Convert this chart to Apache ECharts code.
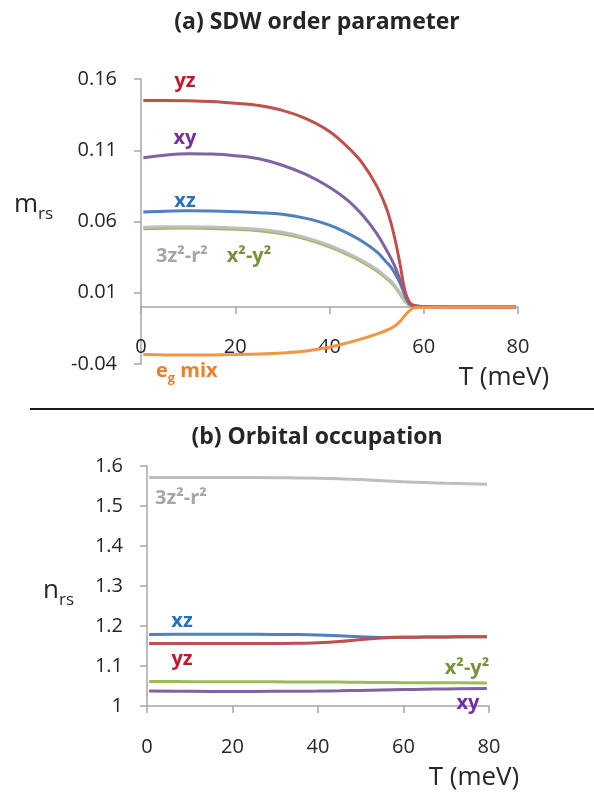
<!DOCTYPE html>
<html><head><meta charset="utf-8">
<script src="https://cdn.jsdelivr.net/npm/echarts@6/dist/echarts.min.js"></script>
<style>html,body{margin:0;padding:0;background:#fff}#c{width:594px;height:794px}</style>
</head><body><div id="c"></div>
<script>
// ---------- data: (a) SDW order parameter ----------
const tempTop  = [0.5, 5, 10, 15, 20, 25, 30, 35, 40, 44, 47, 50, 52, 53, 54, 55, 56, 57, 58, 60, 65, 70, 79.5];
const mYZ      = [0.1450,0.1450,0.1448,0.1442,0.1430,0.1414,0.1380,0.1322,0.1232,0.1118,0.1008,0.0850,0.0700,0.0595,0.0460,0.0295,0.0115,0.0030,0.0008,0.0003,0.0001,0.0001,0];
const mXY      = [0.1048,0.1065,0.1075,0.1073,0.1062,0.1040,0.0995,0.0930,0.0840,0.0745,0.0645,0.0517,0.0405,0.0345,0.0275,0.0189,0.0100,0.0030,0.0010,0.0004,0.0002,0.0001,0];
const mXZ      = [0.0666,0.0672,0.0675,0.0674,0.0669,0.0662,0.0651,0.0622,0.0575,0.0515,0.0460,0.0388,0.0318,0.0282,0.0230,0.0166,0.0080,0.0020,0.0006,0.0003,0.0001,0.0001,0];
const m3Z2R2   = [0.0559,0.0563,0.0564,0.0561,0.0555,0.0545,0.0524,0.0487,0.0432,0.0375,0.0325,0.0265,0.0211,0.0183,0.0145,0.0096,0.0046,0.0012,0.0004,0.0002,0.0001,0,0];
const mX2Y2    = [0.0549,0.0553,0.0554,0.0551,0.0545,0.0535,0.0514,0.0477,0.0422,0.0365,0.0315,0.0255,0.0202,0.0175,0.0137,0.0089,0.0040,0.0010,0.0003,0.0001,0.0001,0,0];
const mEgMix   = [-0.0333,-0.0336,-0.0337,-0.0336,-0.0334,-0.0330,-0.0322,-0.0308,-0.0282,-0.0250,-0.0222,-0.0190,-0.0165,-0.0150,-0.0130,-0.0100,-0.0060,-0.0025,-0.0005,-0.0001,0,0,0];

// ---------- data: (b) Orbital occupation ----------
const tempBottom = [0.5, 10, 20, 30, 35, 40, 45, 50, 55, 60, 65, 70, 79.5];
const n3Z2R2 = [1.5710,1.5712,1.5712,1.5708,1.5703,1.5695,1.5680,1.5660,1.5630,1.5605,1.5585,1.5568,1.5545];
const nXZ    = [1.1790,1.1792,1.1792,1.1790,1.1787,1.1777,1.1755,1.1730,1.1715,1.1718,1.1722,1.1726,1.1733];
const nYZ    = [1.1560,1.1560,1.1560,1.1562,1.1566,1.1580,1.1610,1.1660,1.1700,1.1718,1.1722,1.1726,1.1733];
const nX2Y2  = [1.0610,1.0609,1.0607,1.0604,1.0602,1.0600,1.0597,1.0593,1.0588,1.0584,1.0581,1.0579,1.0577];
const nXY    = [1.0372,1.0366,1.0364,1.0366,1.0369,1.0373,1.0380,1.0390,1.0400,1.0410,1.0420,1.0428,1.0440];

// ---------- tick labels ----------
const tTicks = [0, 20, 40, 60, 80];
const mTicks = [-0.04, 0.01, 0.06, 0.11, 0.16];
const nTicks = [1, 1.1, 1.2, 1.3, 1.4, 1.5, 1.6];

const FONT = '"Open Sans", "DejaVu Sans", sans-serif';
const TXT = '#262626';
const AX = {color:'#A6A6A6', width:1.5};
const C = {yz:'#C0504D', xy:'#8064A2', xz:'#4F81BD', g3:'#BEBEBE', x2:'#9BBB59', eg:'#F39544'};
const L = {yz:'#C0182B', xy:'#7030A0', xz:'#2472C0', g3:'#A6A6A6', x2:'#76923C', eg:'#EB7F2C'};

function pts(xs, ys){ return xs.map((x,i)=>[x, ys[i]]); }
function ls(name, xs, ys, color, gi, z){
  return {name, type:'line', xAxisIndex:gi, yAxisIndex:gi, data:pts(xs,ys),
    showSymbol:false, symbol:'none', smooth:0.4,
    lineStyle:{color, width:3}, itemStyle:{color}, z, animation:false,
    emphasis:{disabled:true}};
}
function xAx(gi, onZero, margin){
  return {gridIndex:gi, type:'value', min:tTicks[0], max:tTicks[tTicks.length-1],
    interval:tTicks[1]-tTicks[0],
    axisLine:{show:true, onZero, lineStyle:AX}, axisTick:{show:true, length:7, lineStyle:AX},
    axisLabel:{margin, fontSize:20, color:TXT, fontFamily:FONT},
    splitLine:{show:false}};
}
function yAx(gi, ticks, fmt){
  return {gridIndex:gi, type:'value', min:ticks[0], max:ticks[ticks.length-1],
    interval:+(ticks[1]-ticks[0]).toFixed(4),
    axisLine:{show:true, lineStyle:AX}, axisTick:{show:true, length:7, lineStyle:AX},
    axisLabel:{margin:24, fontSize:20, color:TXT, fontFamily:FONT, formatter:fmt},
    splitLine:{show:false}};
}
function lab(text, x, y, fill){
  return {type:'text', x, y, silent:true, z:100,
    style:{text, fill, font:'bold 20px ' + FONT, fontSize:20, fontWeight:'bold', fontFamily:FONT,
      align:'center', verticalAlign:'middle', textAlign:'center', textVerticalAlign:'middle'}};
}
function plain(text, x, y, size, weight){
  return {type:'text', x, y, silent:true, z:100,
    style:{text, fill:TXT, font:(weight||'normal') + ' ' + size + 'px ' + FONT, fontSize:size, fontWeight:weight||'normal', fontFamily:FONT,
      align:'center', verticalAlign:'middle', textAlign:'center', textVerticalAlign:'middle'}};
}
function subLabel(main, sub, x, y, mainSize, subSize, fill, weight){
  return {type:'text', x, y, silent:true, z:100,
    style:{text:'{a|' + main + '}{b|' + sub + '}', fill, align:'left', verticalAlign:'top',
      rich:{
        a:{fontSize:mainSize, fontFamily:FONT, fontWeight:weight, fill, lineHeight:mainSize+10},
        b:{fontSize:subSize, fontFamily:FONT, fontWeight:weight, fill, lineHeight:subSize+2, verticalAlign:'bottom'}
      }}};
}
function egLabel(x, y){
  return {type:'text', x, y, silent:true, z:100,
    style:{text:'{a|e}{b|g}{a| mix}', fill:L.eg, align:'left', verticalAlign:'top',
      rich:{
        a:{fontSize:20, fontFamily:FONT, fontWeight:'bold', fill:L.eg, lineHeight:28},
        b:{fontSize:13, fontFamily:FONT, fontWeight:'bold', fill:L.eg, lineHeight:14, verticalAlign:'bottom'}
      }}};
}

const chart = echarts.init(document.getElementById('c'));
chart.setOption({
  animation:false,
  backgroundColor:'#ffffff',
  textStyle:{fontFamily:FONT},
  grid:[
    {left:141, top:79, width:377, height:285, outerBoundsMode:'none', containLabel:false},
    {left:147, top:466, width:342, height:240, outerBoundsMode:'none', containLabel:false}
  ],
  xAxis:[xAx(0, true, -27), xAx(1, false, 31)],
  yAxis:[yAx(0, mTicks, v => v.toFixed(2)), yAx(1, nTicks, v => String(Math.round(v*10)/10))],
  series:[
    ls('x²-y²', tempTop, mX2Y2, C.x2, 0, 2),
    ls('3z²-r²', tempTop, m3Z2R2, C.g3, 0, 3),
    ls('xz', tempTop, mXZ, C.xz, 0, 4),
    ls('xy', tempTop, mXY, C.xy, 0, 5),
    ls('yz', tempTop, mYZ, C.yz, 0, 6),
    ls('eg mix', tempTop, mEgMix, C.eg, 0, 7),
    ls('3z²-r²', tempBottom, n3Z2R2, C.g3, 1, 2),
    ls('xy', tempBottom, nXY, C.xy, 1, 3),
    ls('x²-y²', tempBottom, nX2Y2, C.x2, 1, 4),
    ls('xz', tempBottom, nXZ, C.xz, 1, 5),
    ls('yz', tempBottom, nYZ, C.yz, 1, 6)
  ],
  graphic:[
    plain('(a) SDW order parameter', 317, 22, 23, 'bold'),
    plain('(b) Orbital occupation', 317, 437, 23, 'bold'),
    {type:'line', silent:true, shape:{x1:30, y1:409, x2:594, y2:409}, style:{stroke:'#1a1a1a', lineWidth:2}},
    plain('T (meV)', 504, 378, 26),
    plain('T (meV)', 474, 778, 26),
    subLabel('m', 'rs', 14, 187, 26, 17, TXT, 'normal'),
    subLabel('n', 'rs', 43, 573, 26, 17, TXT, 'normal'),
    lab('yz', 185, 81, L.yz),
    lab('xy', 185, 138, L.xy),
    lab('xz', 185, 201, L.xz),
    lab('3z²-r²', 182, 256, L.g3),
    lab('x²-y²', 249, 256, L.x2),
    egLabel(156, 357),
    lab('3z²-r²', 181, 498, L.g3),
    lab('xz', 182, 621, L.xz),
    lab('yz', 182, 659, L.yz),
    lab('x²-y²', 467, 668, L.x2),
    lab('xy', 468, 703, L.xy)
  ]
});
</script>
</body></html>
